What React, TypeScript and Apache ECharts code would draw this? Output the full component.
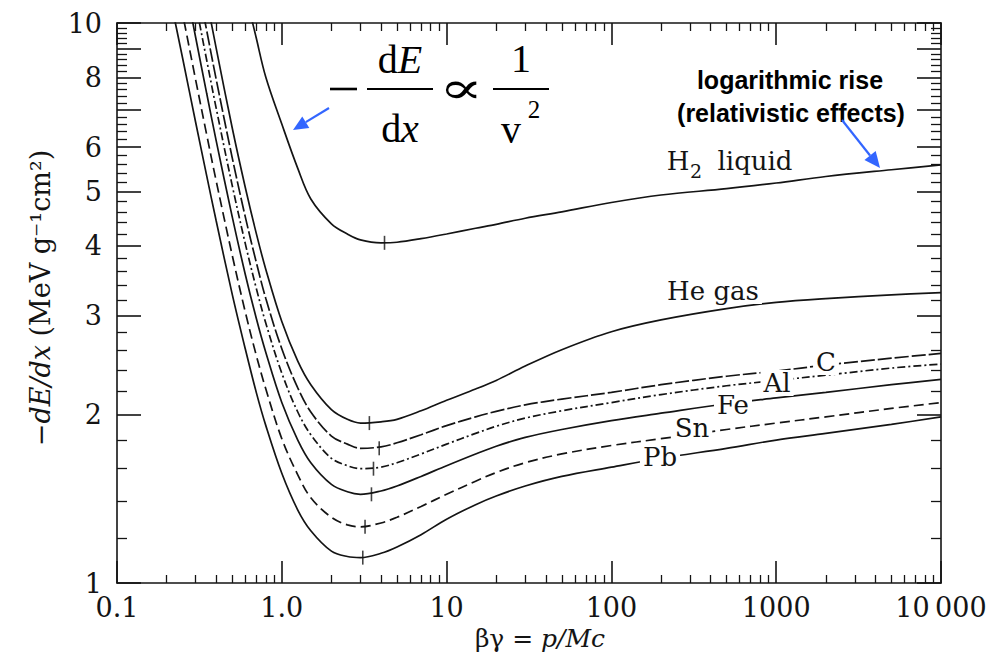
import React, { useEffect, useRef } from "react";
import * as echarts from "echarts";

// βγ sample points shared by all curves
const BG = [0.2, 0.25, 0.3, 0.35, 0.4, 0.5, 0.6, 0.7, 0.8, 1, 1.25, 1.5, 2, 2.5, 3, 4, 5, 7, 10, 15, 20, 30, 50, 100, 200, 500, 1000, 2000, 5000, 10000];

// -dE/dx (MeV g^-1 cm^2)
const H2_LIQUID = [null, null, null, null, null, 15.0, 11.4, 9.4, 8.0, 6.6, 5.5, 4.85, 4.38, 4.2, 4.1, 4.05, 4.06, 4.12, 4.2, 4.3, 4.37, 4.48, 4.6, 4.78, 4.93, 5.06, 5.18, 5.32, 5.47, 5.58];
const HE_GAS = [27.2, 18.9, 14.07, 11.05, 9.01, 6.5, 5.09, 4.21, 3.63, 2.93, 2.49, 2.26, 2.04, 1.96, 1.93, 1.94, 1.96, 2.03, 2.12, 2.22, 2.3, 2.44, 2.61, 2.81, 2.95, 3.09, 3.17, 3.22, 3.27, 3.3];
const CARBON = [23.6, 16.5, 12.3, 9.7, 7.93, 5.75, 4.51, 3.74, 3.22, 2.62, 2.23, 2.02, 1.83, 1.77, 1.74, 1.75, 1.78, 1.84, 1.91, 1.98, 2.025, 2.08, 2.13, 2.19, 2.26, 2.34, 2.39, 2.45, 2.52, 2.57];
const ALUMINUM = [20.4, 14.4, 10.85, 8.59, 7.04, 5.13, 4.04, 3.36, 2.91, 2.37, 2.02, 1.84, 1.67, 1.62, 1.6, 1.61, 1.64, 1.7, 1.77, 1.85, 1.905, 1.97, 2.03, 2.1, 2.17, 2.25, 2.3, 2.35, 2.42, 2.46];
const IRON = [17.5, 12.45, 9.43, 7.49, 6.16, 4.51, 3.56, 2.97, 2.58, 2.1, 1.8, 1.64, 1.5, 1.455, 1.44, 1.46, 1.49, 1.55, 1.62, 1.7, 1.755, 1.82, 1.88, 1.95, 2.01, 2.09, 2.14, 2.19, 2.26, 2.31];
const TIN = [14.5, 10.39, 7.92, 6.32, 5.22, 3.85, 3.05, 2.55, 2.22, 1.81, 1.56, 1.42, 1.31, 1.27, 1.26, 1.28, 1.31, 1.37, 1.44, 1.52, 1.575, 1.64, 1.7, 1.76, 1.81, 1.88, 1.93, 1.98, 2.05, 2.1];
const LEAD = [11.9, 8.66, 6.65, 5.34, 4.43, 3.28, 2.62, 2.19, 1.91, 1.57, 1.35, 1.24, 1.14, 1.115, 1.11, 1.13, 1.16, 1.22, 1.3, 1.38, 1.43, 1.49, 1.55, 1.61, 1.67, 1.74, 1.8, 1.85, 1.92, 1.98];

const CURVE_NAMES = ["H2 liquid", "He gas", "C", "Al", "Fe", "Sn", "Pb"];
const CURVE_VALUES = [H2_LIQUID, HE_GAS, CARBON, ALUMINUM, IRON, TIN, LEAD];

// minimum-ionisation markers
const MIN_BG = [4.2, 3.4, 3.9, 3.6, 3.5, 3.2, 3.1];
const MIN_VAL = [4.05, 1.93, 1.74, 1.6, 1.44, 1.26, 1.11];

// tick labels
const X_DECADES = [0.1, 1, 10, 100, 1000, 10000];
const X_TICK_LABELS = ["0.1", "1.0", "10", "100", "1000", "10\u2009000"];
const Y_LABEL_VALUES = [1, 2, 3, 4, 5, 6, 8, 10];
const Y_MAJOR_VALUES = [1, 2, 3, 4, 5, 6, 7, 8, 9, 10];

const lg = Math.log10;

function xMinorTicks(): number[] {
  const out: number[] = [];
  for (let d = -1; d < 4; d++) {
    for (let m = 2; m <= 9; m++) out.push(d + lg(m));
  }
  return out;
}
function yMinorTicks(): number[] {
  const out: number[] = [];
  for (let k = 6; k < 50; k++) {
    if (k % 5 === 0) continue;
    out.push(lg(k / 5));
  }
  return out;
}

const SERIF = "'DejaVu Serif', 'Liberation Serif', serif";
const TIMES = "'Liberation Serif', 'DejaVu Serif', serif";
const SANS = "'Liberation Sans', Arial, sans-serif";
const INK = "#141414";
const BLUE = "#3366ff";

function arrow(x1: number, y1: number, x2: number, y2: number, head: number) {
  const a = Math.atan2(y2 - y1, x2 - x1);
  const bx = x2 - head * Math.cos(a);
  const by = y2 - head * Math.sin(a);
  const w = head * 0.45;
  const nx = -Math.sin(a) * w;
  const ny = Math.cos(a) * w;
  return [
    { type: "line", z: 100, shape: { x1, y1, x2: bx, y2: by }, style: { stroke: BLUE, lineWidth: 2.2 } },
    {
      type: "polygon",
      z: 100,
      shape: { points: [[x2, y2], [bx + nx, by + ny], [bx - nx, by - ny]] },
      style: { fill: BLUE },
    },
  ];
}

function label(text: string, x: number, y: number, size: number, align = "center", bg = true) {
  return {
    type: "text",
    z: 100,
    x,
    y,
    style: {
      text,
      align,
      verticalAlign: "middle",
      fontFamily: SERIF,
      fontSize: size,
      fill: INK,
      backgroundColor: bg ? "#ffffff" : "transparent",
      padding: bg ? [0, 3, 0, 3] : 0,
    },
  };
}

export default function App() {
  const ref = useRef<HTMLDivElement>(null);
  useEffect(() => {
    if (!ref.current) return;
    const chart = echarts.init(ref.current, null, { renderer: "svg" });

    const dashes: any[] = ["solid", "solid", [14, 3], [8, 3, 2, 3], "solid", [10, 5], "solid"];
    const lineSeries = CURVE_NAMES.map((name, i) => ({
      name,
      type: "line",
      xAxisIndex: 0,
      yAxisIndex: 0,
      symbol: "none",
      smooth: 0.35,
      clip: true,
      lineStyle: { color: INK, width: 1.7, type: dashes[i] },
      data: BG.map((b, j) => [b, CURVE_VALUES[i][j]])
        .filter((p) => p[1] != null)
        .map((p) => [lg(p[0] as number), lg(p[1] as number)]),
    }));

    const minSeries = {
      name: "minimum",
      type: "scatter",
      xAxisIndex: 0,
      yAxisIndex: 0,
      symbol: "rect",
      symbolSize: [1.6, 14],
      itemStyle: { color: INK },
      data: MIN_BG.map((b, i) => [lg(b), lg(MIN_VAL[i])]),
    };

    const axisLine = { show: true, onZero: false, lineStyle: { color: INK, width: 1.6 } };
    const noLine = { show: false, onZero: false };
    const baseX = { type: "value", min: -1, max: 4, splitLine: { show: false } };
    const baseY = { type: "value", min: 0, max: 1, splitLine: { show: false } };
    const xMajor = X_DECADES.map(lg);
    const yMajor = Y_MAJOR_VALUES.map(lg);

    const option: any = {
      animation: false,
      backgroundColor: "#ffffff",
      grid: { left: 117, right: 53, top: 23, bottom: 70 },
      xAxis: [
        {
          ...baseX,
          position: "bottom",
          axisLine,
          axisTick: { inside: true, length: 22, customValues: xMajor, lineStyle: { color: INK, width: 1.6 } },
          axisLabel: {
            customValues: xMajor,
            formatter: (v: number) => X_TICK_LABELS[Math.round(v) + 1],
            fontFamily: SERIF,
            fontSize: 27,
            lineHeight: 22,
            color: INK,
            margin: 13,
          },
        },
        {
          ...baseX,
          position: "bottom",
          axisLine: noLine,
          axisTick: { inside: true, length: 8, customValues: xMinorTicks(), lineStyle: { color: INK, width: 1.3 } },
          axisLabel: { show: false },
        },
        {
          ...baseX,
          position: "top",
          axisLine,
          axisTick: { inside: true, length: 22, customValues: xMajor, lineStyle: { color: INK, width: 1.6 } },
          axisLabel: { show: false },
        },
        {
          ...baseX,
          position: "top",
          axisLine: noLine,
          axisTick: { inside: true, length: 8, customValues: xMinorTicks(), lineStyle: { color: INK, width: 1.3 } },
          axisLabel: { show: false },
        },
      ],
      yAxis: [
        {
          ...baseY,
          position: "left",
          axisLine,
          axisTick: { inside: true, length: 24, customValues: yMajor, lineStyle: { color: INK, width: 1.6 } },
          axisLabel: {
            customValues: Y_LABEL_VALUES.map(lg),
            formatter: (v: number) => String(Math.round(Math.pow(10, v))),
            fontFamily: SERIF,
            fontSize: 27,
            lineHeight: 22,
            color: INK,
            margin: 15,
          },
        },
        {
          ...baseY,
          position: "left",
          axisLine: noLine,
          axisTick: { inside: true, length: 10, customValues: yMinorTicks(), lineStyle: { color: INK, width: 1.3 } },
          axisLabel: { show: false },
        },
        {
          ...baseY,
          position: "right",
          axisLine,
          axisTick: { inside: true, length: 24, customValues: yMajor, lineStyle: { color: INK, width: 1.6 } },
          axisLabel: { show: false },
        },
        {
          ...baseY,
          position: "right",
          axisLine: noLine,
          axisTick: { inside: true, length: 10, customValues: yMinorTicks(), lineStyle: { color: INK, width: 1.3 } },
          axisLabel: { show: false },
        },
      ],
      series: [...lineSeries, minSeries],
      graphic: [
        // y axis title
        {
          type: "text",
          z: 100,
          x: 40,
          y: 298,
          rotation: Math.PI / 2,
          style: {
            text: "{n|\u2212}{i|dE/dx}{n| (MeV g\u207B\u00B9cm\u00B2)}",
            align: "center",
            verticalAlign: "middle",
            rich: {
              n: { fontFamily: SERIF, fontSize: 27, fill: INK },
              i: { fontFamily: SERIF, fontSize: 27, fontStyle: "italic", fill: INK },
            },
          },
        },
        // x axis title
        {
          type: "text",
          z: 100,
          x: 540,
          y: 638,
          style: {
            text: "{n|\u03B2\u03B3 = }{i|p/Mc}",
            align: "center",
            verticalAlign: "middle",
            rich: {
              n: { fontFamily: SERIF, fontSize: 25, fill: INK },
              i: { fontFamily: SERIF, fontSize: 25, fontStyle: "italic", fill: INK },
            },
          },
        },
        // formula  -dE/dx ∝ 1/v²
        { type: "line", z: 100, shape: { x1: 330, y1: 89, x2: 357, y2: 89 }, style: { stroke: "#000", lineWidth: 2.6 } },
        {
          type: "text",
          z: 100,
          x: 400,
          y: 59,
          style: {
            text: "{n|d}{i|E}",
            align: "center",
            verticalAlign: "middle",
            rich: {
              n: { fontFamily: TIMES, fontSize: 40, fill: "#000" },
              i: { fontFamily: TIMES, fontSize: 40, fontStyle: "italic", fill: "#000" },
            },
          },
        },
        { type: "line", z: 100, shape: { x1: 367, y1: 89, x2: 433, y2: 89 }, style: { stroke: "#000", lineWidth: 2 } },
        {
          type: "text",
          z: 100,
          x: 400,
          y: 128,
          style: {
            text: "{n|d}{i|x}",
            align: "center",
            verticalAlign: "middle",
            rich: {
              n: { fontFamily: TIMES, fontSize: 40, fill: "#000" },
              i: { fontFamily: TIMES, fontSize: 40, fontStyle: "italic", fill: "#000" },
            },
          },
        },
        {
          type: "text",
          z: 100,
          x: 461,
          y: 88,
          scaleX: 1.5,
          style: { text: "\u221D", align: "center", verticalAlign: "middle", fontFamily: SERIF, fontSize: 44, fill: "#000" },
        },
        { type: "line", z: 100, shape: { x1: 493, y1: 89, x2: 549, y2: 89 }, style: { stroke: "#000", lineWidth: 2 } },
        {
          type: "text",
          z: 100,
          x: 521,
          y: 58,
          style: { text: "1", align: "center", verticalAlign: "middle", fontFamily: TIMES, fontSize: 40, fill: "#000" },
        },
        {
          type: "text",
          z: 100,
          x: 511,
          y: 129,
          style: { text: "v", align: "center", verticalAlign: "middle", fontFamily: TIMES, fontSize: 40, fill: "#000" },
        },
        {
          type: "text",
          z: 100,
          x: 534,
          y: 109,
          style: { text: "2", align: "center", verticalAlign: "middle", fontFamily: TIMES, fontSize: 25, fill: "#000" },
        },
        ...arrow(329, 108, 293, 130, 15),
        // annotation
        {
          type: "text",
          z: 100,
          x: 790,
          y: 80,
          style: { text: "logarithmic rise", align: "center", verticalAlign: "middle", fontFamily: SANS, fontWeight: "bold", fontSize: 25, fill: "#000" },
        },
        {
          type: "text",
          z: 100,
          x: 791,
          y: 113,
          style: { text: "(relativistic effects)", align: "center", verticalAlign: "middle", fontFamily: SANS, fontWeight: "bold", fontSize: 25, fill: "#000" },
        },
        ...arrow(842, 120, 880, 168, 16),
        // curve labels
        label("H", 678, 161, 26, "center", false),
        label("2", 696, 171, 19, "center", false),
        label("liquid", 755, 161, 26, "center", false),
        label("He gas", 713, 291, 26),
        label("C", 826, 362, 26),
        label("Al", 777, 383, 26),
        label("Fe", 733, 405, 26),
        label("Sn", 692, 428, 26),
        label("Pb", 660, 457, 26),
      ],
    };
    chart.setOption(option);
    return () => chart.dispose();
  }, []);
  return <div ref={ref} style={{ position: "absolute", left: 0, top: 0, width: 994, height: 653, background: "#fff" }} />;
}
